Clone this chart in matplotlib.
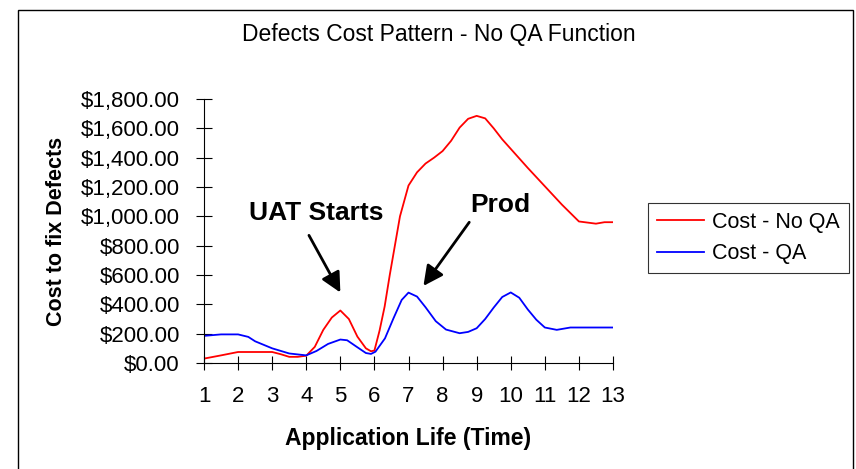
import matplotlib
matplotlib.use('Agg')
import matplotlib.pyplot as plt
from matplotlib.patches import Rectangle
from matplotlib.ticker import FuncFormatter, MultipleLocator

plt.rcParams['font.family'] = ['Liberation Sans', 'DejaVu Sans']

x_no_qa = [1.0, 1.5, 2.0, 2.5, 3.0, 3.25, 3.5, 3.75, 4.0, 4.25, 4.5, 4.75, 5.0,
           5.25, 5.5, 5.75, 5.9, 6.0, 6.15, 6.3, 6.45, 6.6, 6.75, 7.0, 7.25,
           7.5, 7.75, 8.0, 8.25, 8.5, 8.75, 9.0, 9.25, 9.5, 9.75, 10.0, 10.5,
           11.0, 11.5, 12.0, 12.5, 12.75, 13.0]
cost_no_qa = [30, 52, 75, 75, 75, 60, 42, 42, 50, 110, 226, 310, 358,
              300, 180, 100, 80, 85, 220, 385, 600, 800, 1000, 1210, 1300,
              1360, 1400, 1445, 1515, 1605, 1665, 1685, 1668, 1600, 1525, 1460, 1330,
              1205, 1080, 965, 950, 960, 960]

x_qa = [1.0, 1.5, 2.0, 2.3, 2.5, 3.0, 3.5, 4.0, 4.3, 4.64, 5.0, 5.2, 5.47,
        5.75, 5.9, 6.03, 6.31, 6.56, 6.8, 7.0, 7.25, 7.5, 7.8, 8.1, 8.5,
        8.75, 9.0, 9.25, 9.5, 9.75, 10.0, 10.25, 10.5, 10.75, 11.0, 11.35,
        11.75, 12.0, 13.0]
cost_qa = [185, 195, 195, 178, 148, 100, 65, 52, 82, 130, 160, 155, 112,
           68, 62, 77, 168, 305, 430, 480, 453, 380, 285, 228, 203,
           212, 237, 300, 378, 450, 481, 445, 365, 295, 242, 226,
           242, 242, 242]

fig = plt.figure(figsize=(8.56, 4.69), dpi=100)
ax = fig.add_axes([204/856, 106/469, 409/856, 264/469])

ax.plot(x_no_qa, cost_no_qa, color='#FF0000', lw=1.3, label='Cost - No QA')
ax.plot(x_qa, cost_qa, color='#0000FF', lw=1.3, label='Cost - QA')

ax.set_xlim(1, 13)
ax.set_ylim(0, 1800)
ax.xaxis.set_major_locator(MultipleLocator(1))
ax.yaxis.set_major_locator(MultipleLocator(200))
ax.yaxis.set_major_formatter(FuncFormatter(lambda v, p: '${:,.2f}'.format(v)))
for s in ['top', 'right']:
    ax.spines[s].set_visible(False)
for s in ['left', 'bottom']:
    ax.spines[s].set_linewidth(0.8)
ax.tick_params(axis='y', direction='inout', length=11, width=0.8, labelsize=16, pad=12)
ax.tick_params(axis='x', direction='inout', length=9.5, width=0.8, labelsize=16, pad=12)

# title is centred on the whole chart area, not on the axes
fig.text(439/856, 1 - 35/469, 'Defects Cost Pattern - No QA Function', fontsize=16.5,
         ha='center', va='center')
ax.set_xlabel('Application Life (Time)', fontsize=16.5, fontweight='bold', labelpad=14)
ax.set_ylabel('Cost to fix Defects', fontsize=15.5, fontweight='bold', labelpad=10)

ax.text(4.29, 1023, 'UAT Starts', fontsize=19, fontweight='bold', ha='center', va='center')
ax.annotate('', xy=(5.04, 464), xytext=(4.04, 887),
            arrowprops=dict(arrowstyle='-|>', color='black', lw=2, mutation_scale=30))
ax.text(9.69, 1078, 'Prod', fontsize=19, fontweight='bold', ha='center', va='center')
ax.annotate('', xy=(7.39, 510), xytext=(8.83, 975),
            arrowprops=dict(arrowstyle='-|>', color='black', lw=2, mutation_scale=30))

leg = ax.legend(loc='center left', bbox_to_anchor=(648/856, 231/469),
                bbox_transform=fig.transFigure, fontsize=15.5, frameon=True,
                fancybox=False, edgecolor='black', handlelength=2.2,
                handletextpad=0.35, borderpad=0.42, borderaxespad=0,
                labelspacing=0.5)
leg.get_frame().set_linewidth(0.8)

fig.patches.append(Rectangle((18/856, -0.05), (853-18)/856, 1.05 - 10/469,
                             transform=fig.transFigure, fill=False,
                             edgecolor='black', lw=1))

fig.savefig('out.png', dpi=100)
